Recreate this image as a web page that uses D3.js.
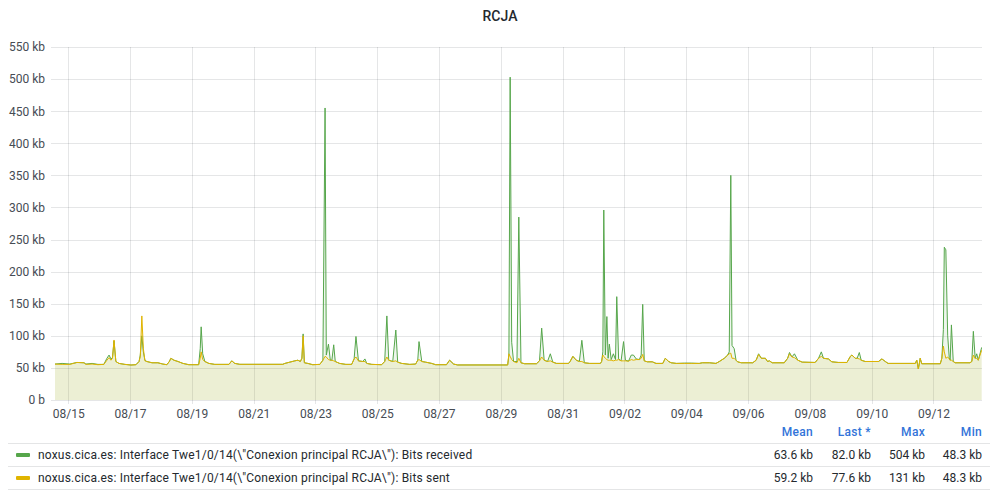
<!DOCTYPE html>
<html><head><meta charset="utf-8">
<script src="https://cdn.jsdelivr.net/npm/d3@7"></script>
<style>
html,body{margin:0;padding:0;background:#fff;}
svg{display:block;font-family:Roboto,"Noto Sans",sans-serif;}
</style></head><body>
<svg id="chart" width="1000" height="500"></svg>
<script>
const title = "RCJA";
const seriesNames = [
  'noxus.cica.es: Interface Twe1/0/14(\\"Conexion principal RCJA\\"): Bits received',
  'noxus.cica.es: Interface Twe1/0/14(\\"Conexion principal RCJA\\"): Bits sent'
];
const seriesColors = ["#56A64B", "#E0B400"];
const tickLabels = ["08/15","08/17","08/19","08/21","08/23","08/25","08/27","08/29","08/31","09/02","09/04","09/06","09/08","09/10","09/12"];
const yTicks = [0,50,100,150,200,250,300,350,400,450,500,550];
const rangeDays = [0.57, 30.57]; // days since 08/14 00:00
const timeDays = [0.57,0.80,1.05,1.28,1.51,1.57,1.77,1.96,2.15,2.25,2.32,2.38,2.43,2.48,2.54,2.64,2.83,3.03,3.19,3.29,3.33,3.38,3.43,3.48,3.54,3.71,3.90,4.06,4.19,4.27,4.32,4.42,4.55,4.71,4.90,5.22,5.27,5.30,5.35,5.42,5.55,5.74,6.20,6.29,6.39,6.55,7.94,8.01,8.17,8.33,8.43,8.51,8.56,8.60,8.64,8.75,8.91,9.14,9.24,9.31,9.35,9.42,9.48,9.53,9.59,9.64,9.78,9.98,10.17,10.25,10.31,10.39,10.53,10.60,10.66,10.82,11.14,11.24,11.31,11.37,11.50,11.60,11.66,11.79,12.05,12.24,12.31,12.35,12.44,12.56,12.76,12.89,13.24,13.34,13.47,13.60,15.22,15.26,15.30,15.35,15.41,15.52,15.58,15.65,15.77,16.15,16.25,16.32,16.40,16.51,16.60,16.68,16.80,17.19,17.24,17.33,17.44,17.54,17.62,17.70,17.87,18.22,18.26,18.30,18.33,18.38,18.43,18.47,18.51,18.57,18.64,18.71,18.75,18.81,18.89,18.97,19.03,19.13,19.22,19.29,19.38,19.48,19.54,19.59,19.64,19.74,19.90,20.02,20.24,20.32,20.43,20.51,20.68,20.94,21.16,21.42,21.52,21.75,21.96,22.07,22.23,22.34,22.39,22.44,22.48,22.55,22.61,22.66,22.78,23.15,23.26,23.34,23.43,23.56,23.63,23.69,23.78,24.17,24.28,24.34,24.42,24.50,24.61,24.75,25.17,25.28,25.37,25.44,25.60,25.71,25.92,26.20,26.31,26.36,26.47,26.53,26.60,26.66,26.79,27.22,27.33,27.44,27.53,28.41,28.46,28.51,28.57,28.62,29.22,29.27,29.32,29.35,29.40,29.46,29.51,29.54,29.58,29.64,29.70,30.18,30.24,30.29,30.35,30.40,30.45,30.56];
const received = [56,57,56,58.5,58,56,57,55.5,55.5,65,70,64,66,92,60,57,55.5,54.5,55,60,70,100,75,62,60,58,58,56,55,60,65,62,60,57,55,55,80,114,72,60,57,55.5,55.5,61,57,55.6,55.6,57,59,61,62,60,65,103,58,57,55,55.5,62,455,70,87,62,62,86,60,57,55.5,55.5,64,99,61,60,64,57,55.5,55,60,131,62,60,109,59,57,55.5,56,62,91,60,59,57,55,55,62,56,54.6,54.6,70,503,90,60,60,285,58,56.5,56.5,61,112,62,60,72,59,57,57,60,68,62,60,93,58,57,57,60,75,296,70,130,65,87,63,72,63,161,64,61,91,62,60.5,70,70,64,63,70,149,61,59.5,59.5,57,57,65,60,58,57,57.5,57.5,57,58,58,57,60,65,70,75,350,85,80,62,59.5,58,58,62,72,65,65,60,61,58,58,65,74,67,72,62,59,58.5,65,75,65,64,59.5,58.5,58.5,68,70,65,65,74,62,60,60,64,60,57,57,62,48.3,65,56.5,56.5,65,110,238,234,100,66,62,117,60,58,58,60,107,65,72,62,82];
const sent = [56,55.5,55.5,58.5,58,55.5,56,55,55.5,62,66,62,65,93.5,60,57,55.5,54.5,55,60,68,131,80,61,60,58,58,56,55,60,65,62,60,57,55,55,65,75,63,60,57,55.5,55.5,61,57,55.6,55.6,57,59,61,62,60,65,100,58,57,55,55.5,62,68,67,63,62,62,61,60,57,55.5,55.5,64,67,61,60,60,57,55.5,55,60,67,62,60,61,59,57,55.5,56,62,63,60,59,57,55,55,62,56,54.6,54.6,72,68,63,60,58,65,58,56.5,56.5,61,67,62,60,61,59,57,57,60,68,62,60,60,58,57,57,60,70,68,65,63,62,62,62,61,62,62,63,61,61,61,60.5,63,62,63,63,65,71,61,59.5,59.5,57,57,65,60,58,57,57,57,57,58,58,57,60,65,70,72,73,65,65,62,59.5,58,58,62,71,65,65,60,61,58,58,65,72,67,66,62,59,58.5,65,68,65,64,59.5,58.5,58.5,68,70,65,65,64,62,60,60,64,60,57,57,62,48.3,65,56.5,56.5,65,84,75,65,67,64,62,62,60,58,58,60,70,65,65,62,77.6];
const statHeaders = ["Mean","Last *","Max","Min"];
const statsReceived = ["63.6 kb","82.0 kb","504 kb","48.3 kb"];
const statsSent = ["59.2 kb","77.6 kb","131 kb","48.3 kb"];

const svg = d3.select("#chart");
const L = 55, R = 982, T = 47, B = 400;
const base = new Date(2021, 7, 14).getTime();
const toDate = d => new Date(base + d * 864e5);
const x = d3.scaleTime().domain(rangeDays.map(toDate)).range([L, R]);
const y = d3.scaleLinear().domain([0, 550]).range([B, T]);
const parse = d3.timeParse("%Y/%m/%d");
const tickDates = tickLabels.map(s => parse("2021/" + s));

// title
svg.append("text").attr("x", 500).attr("y", 21).attr("text-anchor", "middle")
  .attr("font-size", 14).attr("font-weight", 500).attr("fill", "#24292e").text(title);

// grid
const grid = svg.append("g").attr("stroke", "rgba(0,10,23,0.10)").attr("stroke-width", 1);
grid.selectAll("line.h").data(yTicks).join("line").attr("class","h")
  .attr("x1", L - 4).attr("x2", R).attr("y1", d => Math.round(y(d)) + 0.5).attr("y2", d => Math.round(y(d)) + 0.5);
grid.selectAll("line.v").data(tickDates).join("line").attr("class","v")
  .attr("y1", T).attr("y2", B + 4).attr("x1", d => Math.round(x(d)) + 0.5).attr("x2", d => Math.round(x(d)) + 0.5);

// y axis labels
const yAxis = d3.axisLeft(y).tickValues(yTicks).tickSize(0).tickPadding(10)
  .tickFormat(v => v === 0 ? "0 b" : v + " kb");
svg.append("g").attr("transform", `translate(${L},0)`).call(yAxis)
  .call(g => g.select(".domain").remove())
  .call(g => g.selectAll("text").attr("font-size", 12).attr("fill", "#464c54").attr("font-family", "Roboto"));

// x axis labels
const xAxis = d3.axisBottom(x).tickValues(tickDates).tickSize(0).tickPadding(9)
  .tickFormat(d3.timeFormat("%m/%d"));
svg.append("g").attr("transform", `translate(0,${B})`).call(xAxis)
  .call(g => g.select(".domain").remove())
  .call(g => g.selectAll("text").attr("font-size", 12).attr("fill", "#464c54").attr("font-family", "Roboto"));

// series
const series = [received, sent];
const clip = svg.append("clipPath").attr("id", "clip").append("rect")
  .attr("x", L).attr("y", T - 2).attr("width", R - L).attr("height", B - T + 2);
const plot = svg.append("g").attr("clip-path", "url(#clip)");
series.forEach((vals, i) => {
  const pts = timeDays.map((d, k) => [toDate(d), vals[k]]);
  const area = d3.area().x(p => x(p[0])).y0(y(0)).y1(p => y(p[1]));
  const line = d3.line().x(p => x(p[0])).y(p => y(p[1]));
  plot.append("path").attr("d", area(pts)).attr("fill", seriesColors[i]).attr("fill-opacity", 0.1);
  plot.append("path").attr("d", line(pts)).attr("fill", "none").attr("stroke", seriesColors[i])
    .attr("stroke-width", 1).attr("stroke-linejoin", "round");
});

// legend
const statX = [813, 871, 925, 982];
const lg = svg.append("g").attr("font-family", "Roboto").attr("font-size", 12);
lg.selectAll("text.hd").data(statHeaders).join("text").attr("class","hd")
  .attr("x", (d, i) => statX[i]).attr("y", 436).attr("text-anchor", "end")
  .attr("fill", "#3274D9").attr("font-weight", 500).attr("letter-spacing", 0.3).text(d => d);
const sepY = [443.5, 466.5, 489.5];
lg.selectAll("line.sep").data(sepY).join("line").attr("class","sep")
  .attr("x1", 8).attr("x2", 990).attr("y1", d => d).attr("y2", d => d)
  .attr("stroke", "rgba(36,41,46,0.12)");
const rows = [statsReceived, statsSent];
rows.forEach((stats, i) => {
  const cy = 455 + i * 23;
  lg.append("rect").attr("x", 16).attr("y", cy - 2).attr("width", 14).attr("height", 4)
    .attr("rx", 1).attr("fill", seriesColors[i]);
  lg.append("text").attr("x", 38).attr("y", cy + 4).attr("fill", "#24292e")
    .attr("letter-spacing", 0.19).text(seriesNames[i]);
  lg.selectAll(null).data(stats).join("text").attr("x", (d, k) => statX[k]).attr("y", cy + 4)
    .attr("text-anchor", "end").attr("fill", "#24292e").text(d => d);
});
</script>
</body></html>
